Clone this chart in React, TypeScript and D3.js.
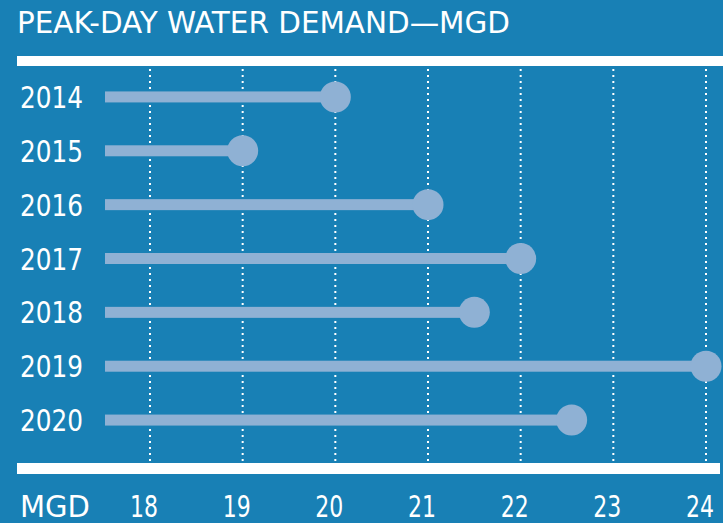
import React from "react";
import { scaleLinear, scaleBand } from "d3";

const years = ["2014", "2015", "2016", "2017", "2018", "2019", "2020"];
const demand = [20.0, 19.0, 21.0, 22.0, 21.5, 24.0, 22.55];
const ticks = [18, 19, 20, 21, 22, 23, 24];

const W = 723;
const H = 523;
const BG = "#1880b5";
const BAR = "#8fb1d4";
const FONT = "'Liberation Sans Narrow', 'DejaVu Sans Condensed', Roboto, sans-serif";

export default function App() {
  // x scale for MGD values
  const x = scaleLinear().domain([18, 24]).range([150, 706]);
  // y scale for the years
  const y = scaleBand().domain(years).range([70, 447]).padding(0);

  const barStart = 105;

  return (
    <svg
      width={W}
      height={H}
      style={{ position: "absolute", left: 0, top: 0, background: BG }}
    >
      <rect width={W} height={H} fill={BG} />

      {/* title */}
      <text
        x={17}
        y={33}
        fill="#fff"
        fontFamily={FONT}
        fontSize={31}
        textLength={493}
        lengthAdjust="spacingAndGlyphs"
      >
        PEAK-DAY WATER DEMAND—MGD
      </text>

      {/* top and bottom white rules */}
      <rect x={17} y={56} width={W - 17} height={10} fill="#fff" />
      <rect x={17} y={463} width={W - 20} height={11} fill="#fff" />

      {/* dotted gridlines */}
      {ticks.map((t) => (
        <line
          key={t}
          x1={x(t)}
          x2={x(t)}
          y1={69}
          y2={462}
          stroke="#fff"
          strokeWidth={2}
          strokeDasharray="2,4"
        />
      ))}

      {/* lollipops */}
      {years.map((yr, i) => {
        const cy = (y(yr) as number) + y.bandwidth() / 2;
        return (
          <g key={yr}>
            <text
              x={20}
              y={cy + 11}
              fill="#fff"
              fontFamily={FONT}
              fontSize={31}
              textLength={63}
              lengthAdjust="spacingAndGlyphs"
            >
              {yr}
            </text>
            <rect
              x={barStart}
              y={cy - 5.5}
              width={x(demand[i]) - barStart}
              height={11}
              fill={BAR}
            />
            <circle cx={x(demand[i])} cy={cy} r={15.5} fill={BAR} />
          </g>
        );
      })}

      {/* axis labels */}
      <text
        x={20}
        y={517}
        fill="#fff"
        fontFamily={FONT}
        fontSize={31}
        textLength={70}
        lengthAdjust="spacingAndGlyphs"
      >
        MGD
      </text>
      {ticks.map((t) => (
        <text
          key={t}
          x={x(t) - 20}
          y={517}
          fill="#fff"
          fontFamily={FONT}
          fontSize={31}
          textLength={28}
          lengthAdjust="spacingAndGlyphs"
        >
          {t}
        </text>
      ))}
    </svg>
  );
}
